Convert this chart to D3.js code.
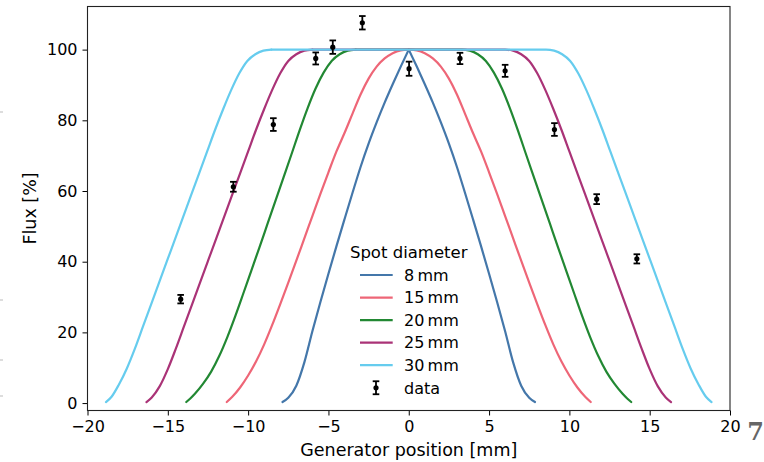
<!DOCTYPE html>
<html>
<head>
<meta charset="utf-8">
<script src="https://cdn.jsdelivr.net/npm/d3@7"></script>
<style>
  body { margin: 0; background: #fff; }
  svg { display: block; }
  text { font-family: "DejaVu Sans", sans-serif; fill: #000; }
</style>
</head>
<body>
<svg id="chart" width="764" height="462"></svg>
<script>
// Simulated flux profiles for each spot diameter: [generator position (mm), flux (%)]
const spotLabels = ["8\u2009mm", "15\u2009mm", "20\u2009mm", "25\u2009mm", "30\u2009mm"];
const spotColors = ["#4477AA", "#EE6677", "#228833", "#AA3377", "#66CCEE"];

const flux8mm = [
  [-7.86,0.3],[-7.5,1.5],[-7,4.9],[-6.5,11.5],[-6,20.3],[-5.5,28.6],[-5,36.6],[-4.5,44.4],
  [-4,52],[-3.5,59.5],[-3,66.8],[-2.5,73.4],[-2,79.4],[-1.5,85],[-1,90.2],[-0.5,95.2],[0,100],
  [0.5,95.2],[1,90.2],[1.5,85],[2,79.4],[2.5,73.4],[3,66.8],[3.5,59.5],[4,52],
  [4.5,44.4],[5,36.6],[5.5,28.6],[6,20.3],[6.5,11.5],[7,4.9],[7.5,1.5],[7.86,0.3]
];
const flux15mm = [
  [-11.33,0.3],[-11,1.7],[-10.5,4.4],[-10,7.8],[-9.5,11.8],[-9,16.6],[-8.5,22.1],[-8,28],
  [-7.5,34.1],[-7,40.3],[-6.5,46.6],[-6,52.9],[-5.5,59.2],[-5,65.3],[-4.5,71.2],[-4,76.4],
  [-3.5,81.9],[-3,87.3],[-2.5,91.8],[-2,95.2],[-1.5,97.5],[-1,99],[-0.5,99.8],[0,100],
  [0.5,99.8],[1,99],[1.5,97.5],[2,95.2],[2.5,91.8],[3,87.3],[3.5,81.9],[4,76.4],
  [4.5,71.2],[5,65.3],[5.5,59.2],[6,52.9],[6.5,46.6],[7,40.3],[7.5,34.1],[8,28],
  [8.5,22.1],[9,16.6],[9.5,11.8],[10,7.8],[10.5,4.4],[11,1.7],[11.33,0.3]
];
const flux20mm = [
  [-13.85,0.3],[-13.6,1.3],[-13.3,2.7],[-12.8,5.5],[-12.3,8.9],[-11.8,13.3],[-11.3,18.6],
  [-10.8,24.6],[-10.3,31],[-9.8,37.5],[-9.3,44],[-8.8,50.6],[-8.3,57.2],[-7.8,63.8],
  [-7.3,70.4],[-6.8,77.1],[-6.3,83.4],[-5.8,89],[-5.3,93.5],[-4.8,96.8],[-4.3,98.7],
  [-3.8,99.7],[-3.3,100],
  [3.3,100],[3.8,99.7],[4.3,98.7],[4.8,96.8],[5.3,93.5],[5.8,89],[6.3,83.4],[6.8,77.1],
  [7.3,70.4],[7.8,63.8],[8.3,57.2],[8.8,50.6],[9.3,44],[9.8,37.5],[10.3,31],[10.8,24.6],
  [11.3,18.6],[11.8,13.3],[12.3,8.9],[12.8,5.5],[13.3,2.7],[13.6,1.3],[13.85,0.3]
];
const flux25mm = [
  [-16.33,0.3],[-16,1.6],[-15.5,4.8],[-15,9.6],[-14.5,15.4],[-14,21.6],[-13.5,27.8],[-13,34],
  [-12.5,40.2],[-12,46.4],[-11.5,52.6],[-11,58.8],[-10.5,65],[-10,71.2],[-9.5,77.4],
  [-9,83.2],[-8.5,88.6],[-8,93.3],[-7.5,96.8],[-7,98.7],[-6.5,99.7],[-6,100],
  [6,100],[6.5,99.7],[7,98.7],[7.5,96.8],[8,93.3],[8.5,88.6],[9,83.2],[9.5,77.4],
  [10,71.2],[10.5,65],[11,58.8],[11.5,52.6],[12,46.4],[12.5,40.2],[13,34],[13.5,27.8],
  [14,21.6],[14.5,15.4],[15,9.6],[15.5,4.8],[16,1.6],[16.33,0.3]
];
const flux30mm = [
  [-18.85,0.3],[-18.5,1.8],[-18.05,5.2],[-17.55,9.8],[-17.05,15.4],[-16.55,21.6],[-16.05,27.8],
  [-15.55,34],[-15.05,40.2],[-14.55,46.4],[-14.05,52.6],[-13.55,58.8],[-13.05,65],[-12.55,71.2],
  [-12.05,77.4],[-11.55,83.2],[-11.05,88.6],[-10.55,93.3],[-10.05,96.8],[-9.55,98.7],
  [-9.05,99.7],[-8.55,100],
  [8.55,100],[9.05,99.7],[9.55,98.7],[10.05,96.8],[10.55,93.3],[11.05,88.6],[11.55,83.2],
  [12.05,77.4],[12.55,71.2],[13.05,65],[13.55,58.8],[14.05,52.6],[14.55,46.4],[15.05,40.2],
  [15.55,34],[16.05,27.8],[16.55,21.6],[17.05,15.4],[17.55,9.8],[18.05,5.2],[18.5,1.8],[18.85,0.3]
];
const spotProfiles = [flux8mm, flux15mm, flux20mm, flux25mm, flux30mm];

// Measured flux with uncertainties
const dataPosition = [-14.2, -10.92, -8.43, -5.79, -4.73, -2.89, 0.02, 3.19, 6.0, 9.07, 11.7, 14.2];
const dataFlux     = [29.4, 61.2, 78.8, 97.5, 100.7, 107.6, 94.6, 97.5, 94.0, 77.4, 57.7, 40.8];
const dataError    = [1.2, 1.4, 1.8, 1.7, 1.9, 1.9, 2.0, 1.6, 1.7, 1.8, 1.4, 1.3];

const xTickValues = [-20, -15, -10, -5, 0, 5, 10, 15, 20];
const yTickValues = [0, 20, 40, 60, 80, 100];

const svg = d3.select("#chart");
const plotLeft = 87.5, plotRight = 730, plotTop = 6.5, plotBottom = 410.5;

const x = d3.scaleLinear().domain([-20, 20]).range([plotLeft, plotRight]);
const y = d3.scaleLinear().domain([-2.1, 112.2]).range([plotBottom, plotTop]);

const fmt = d => (d < 0 ? "\u2212" + Math.abs(d) : String(d));

// axes
const xAxis = svg.append("g")
  .attr("transform", `translate(0,${plotBottom})`)
  .call(d3.axisBottom(x).tickValues(xTickValues).tickFormat(fmt).tickSizeOuter(0).tickSize(5).tickPadding(5));
const yAxis = svg.append("g")
  .attr("transform", `translate(${plotLeft},0)`)
  .call(d3.axisLeft(y).tickValues(yTickValues).tickFormat(fmt).tickSizeOuter(0).tickSize(5).tickPadding(5));
[xAxis, yAxis].forEach(g => {
  g.select(".domain").remove();
  g.selectAll(".tick line").attr("stroke", "#000").attr("stroke-width", 1);
  g.selectAll(".tick text").style("font-size", "16px").style("font-family", "DejaVu Sans").attr("fill", "#000");
});

// frame
svg.append("rect")
  .attr("x", plotLeft).attr("y", plotTop)
  .attr("width", plotRight - plotLeft).attr("height", plotBottom - plotTop)
  .attr("fill", "none").attr("stroke", "#222").attr("stroke-width", 1.1);

// model curves: rising and falling flanks are drawn separately so a sharp peak stays sharp
const line = d3.line()
  .x(d => x(d[0]))
  .y(d => y(d[1]))
  .curve(d3.curveMonotoneX);

const plot = svg.append("g");
spotProfiles.forEach((p, i) => {
  const peak = d3.maxIndex(p, d => d[1]);
  [p.slice(0, peak + 1), p.slice(peak)].forEach(part => {
    plot.append("path")
      .datum(part)
      .attr("d", line)
      .attr("fill", "none")
      .attr("stroke", spotColors[i])
      .attr("stroke-width", 2.2)
      .attr("stroke-linejoin", "round")
      .attr("stroke-linecap", "round");
  });
});

// measured points with error bars
function drawErrorPoint(g, cx, cyTop, cyMid, cyBot) {
  g.append("line").attr("x1", cx).attr("x2", cx).attr("y1", cyTop).attr("y2", cyBot)
    .attr("stroke", "#000").attr("stroke-width", 1.8);
  [cyTop, cyBot].forEach(cy => g.append("line")
    .attr("x1", cx - 3.3).attr("x2", cx + 3.3).attr("y1", cy).attr("y2", cy)
    .attr("stroke", "#000").attr("stroke-width", 1.8));
  g.append("circle").attr("cx", cx).attr("cy", cyMid).attr("r", 2.6).attr("fill", "#000");
}
const pts = svg.append("g");
dataPosition.forEach((px, i) => {
  drawErrorPoint(pts, x(px), y(dataFlux[i] + dataError[i]), y(dataFlux[i]), y(dataFlux[i] - dataError[i]));
});

// axis labels
svg.append("text")
  .attr("x", x(0)).attr("y", 456)
  .attr("text-anchor", "middle")
  .style("font-size", "17.5px")
  .text("Generator position [mm]");
svg.append("text")
  .attr("transform", `translate(36,${(plotTop + plotBottom) / 2}) rotate(-90)`)
  .attr("text-anchor", "middle")
  .style("font-size", "17.5px")
  .text("Flux [%]");

// legend
const legend = svg.append("g");
legend.append("text")
  .attr("x", 408.7).attr("y", 258)
  .attr("text-anchor", "middle")
  .style("font-size", "16.5px")
  .text("Spot diameter");
const rowY0 = 275, rowStep = 22.55;
spotLabels.forEach((lab, i) => {
  const ry = rowY0 + i * rowStep;
  legend.append("line")
    .attr("x1", 360).attr("x2", 392.7).attr("y1", ry).attr("y2", ry)
    .attr("stroke", spotColors[i]).attr("stroke-width", 2.2);
  legend.append("text")
    .attr("x", 404).attr("y", ry + 5.8)
    .style("font-size", "16px")
    .text(lab);
});
const dataRowY = rowY0 + 5 * rowStep;
drawErrorPoint(legend, 376, dataRowY - 6.5, dataRowY, dataRowY + 6.5);
legend.append("text")
  .attr("x", 404).attr("y", dataRowY + 5.8)
  .style("font-size", "16px")
  .text("data");

// neighbouring page fragments at the edges
[112, 300, 360, 396].forEach(my => {
  svg.append("line").attr("x1", 0).attr("x2", 3).attr("y1", my).attr("y2", my)
    .attr("stroke", "#bbb").attr("stroke-width", 1);
});
svg.append("text")
  .attr("x", 764).attr("y", 439.5)
  .attr("text-anchor", "end")
  .style("font-family", "DejaVu Serif")
  .style("font-size", "24px")
  .style("font-weight", "bold")
  .style("fill", "#666")
  .text("7");
</script>
</body>
</html>
